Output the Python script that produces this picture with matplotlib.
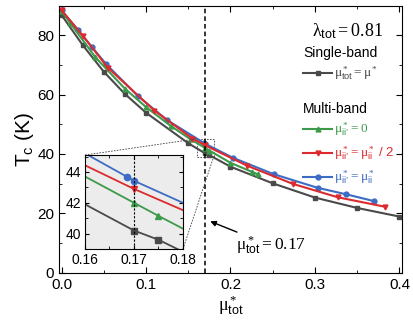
import numpy as np
import matplotlib
matplotlib.use("Agg")
import matplotlib.pyplot as plt
from mpl_toolkits.axes_grid1.inset_locator import mark_inset

plt.rcParams['font.family'] = 'Liberation Sans'
plt.rcParams['mathtext.fontset'] = 'custom'
plt.rcParams['mathtext.rm'] = 'Liberation Serif'
plt.rcParams['mathtext.it'] = 'Liberation Serif:italic'
plt.rcParams['mathtext.sf'] = 'Liberation Sans'

# single-band, mu*_tot = mu*
gray_x = [0, 0.025, 0.05, 0.075, 0.1, 0.15, 0.17, 0.175, 0.2, 0.25, 0.3, 0.35, 0.4]
gray_y = [86.8, 76.7, 67.7, 60.2, 53.9, 43.6, 40.2, 39.6, 35.7, 30.1, 25.3, 21.8, 18.9]
# multi-band, mu*_ii' = 0
green_x = [0, 0.01, 0.04, 0.075, 0.1, 0.129, 0.153, 0.17, 0.175, 0.2, 0.226, 0.233]
green_y = [88.1, 84.2, 72.6, 62.0, 55.8, 49.5, 44.9, 42.0, 41.15, 37.0, 33.9, 33.1]
# multi-band, mu*_ii' = mu*_ii / 2
red_x = [0, 0.025, 0.055, 0.11, 0.155, 0.17, 0.22, 0.274, 0.327, 0.383]
red_y = [88.4, 79.9, 69.0, 54.6, 45.2, 42.9, 36.0, 29.9, 25.4, 22.2]
# multi-band, mu*_ii' = mu*_ii
blue_x = [0, 0.019, 0.036, 0.053, 0.09, 0.125, 0.1685, 0.17, 0.203, 0.251, 0.303, 0.337, 0.370]
blue_y = [88.4, 81.9, 76.0, 70.2, 59.6, 51.4, 43.7, 43.43, 38.7, 33.2, 28.6, 26.4, 24.1]

mu_mark = 0.17

c_gray = '#4a4a4a'
c_green = '#3c9a4a'
c_red = '#dc2a2e'
c_blue = '#3d6cc4'

MU = r'\mathrm{\mu}'
SUB = '\\mathsf{ii\u2019}'
series = [
    (gray_x, gray_y, c_gray, 's', rf'${MU}^*_{{\mathsf{{tot}}}} = {MU}^*$', 3),
    (green_x, green_y, c_green, '^', rf"${MU}^*_{{{SUB}}} = 0$", 4),
    (red_x, red_y, c_red, 'v', rf"${MU}^*_{{{SUB}}} = {MU}^*_{{\mathsf{{ii}}}}$ / 2", 5),
    (blue_x, blue_y, c_blue, 'o', rf"${MU}^*_{{{SUB}}} = {MU}^*_{{\mathsf{{ii}}}}$", 2),
]

fig = plt.figure(figsize=(4.14, 3.25), dpi=100)
ax = fig.add_axes([0.1425, 0.161, 0.8285, 0.822])

handles = []
for xs, ys, col, mk, lab, z in series:
    h, = ax.plot(xs, ys, color=col, marker=mk, ms=3.5, lw=1.5, label=lab, zorder=z)
    handles.append(h)

ax.axvline(mu_mark, color='k', ls=(0, (3, 2)), lw=1.1, zorder=6)
ax.set_xlim(-0.003, 0.403)
ax.set_ylim(0, 90)
ax.set_xticks([0.0, 0.1, 0.2, 0.3, 0.4])
ax.set_xticks(np.arange(0.05, 0.4, 0.1), minor=True)
ax.set_yticks([0, 20, 40, 60, 80])
ax.set_yticks([10, 30, 50, 70, 90], minor=True)
ax.tick_params(which='both', direction='in', top=True, right=True, labelsize=11)
ax.tick_params(which='major', length=4)
ax.tick_params(which='minor', length=2.5)
ax.set_ylabel(r'T$_{\mathsf{c}}$ (K)', fontsize=15, labelpad=1)
ax.set_xlabel(rf'${MU}^*_{{\mathsf{{tot}}}}$', fontsize=13, labelpad=1)

ax.text(0.297, 81.5, r'$\mathrm{\lambda}_{\mathsf{tot}} = 0.81$', fontsize=13, va='center')

leg_kw = dict(loc='upper left', frameon=False, fontsize=9.5, title_fontsize=10,
              handlelength=2.2, handletextpad=0.15, borderpad=0, borderaxespad=0,
              labelcolor='linecolor', alignment='left', labelspacing=0.4)
leg1 = ax.legend(handles=handles[:1], title='Single-band',
                 bbox_to_anchor=(0.712, 0.85), **leg_kw)
ax.add_artist(leg1)
ax.legend(handles=handles[1:], title='Multi-band',
          bbox_to_anchor=(0.712, 0.64), **leg_kw)

ax.annotate(rf'${MU}^*_{{\mathsf{{tot}}}} = 0.17$', xy=(0.176, 17.3), xytext=(0.207, 9.0),
            fontsize=12.5, va='center', ha='left',
            arrowprops=dict(arrowstyle='-|>', color='k', lw=1.0, mutation_scale=8,
                            shrinkA=0, shrinkB=0))

# inset
axins = fig.add_axes([0.2053, 0.2338, 0.2367, 0.2892])
axins.set_facecolor('#ececec')
for xs, ys, col, mk, lab, z in series:
    axins.plot(xs, ys, color=col, marker=mk, ms=4.5, lw=1.3)
axins.axvline(mu_mark, color='k', ls=(0, (2, 1.5)), lw=0.8)
axins.set_xlim(0.16, 0.18)
axins.set_ylim(39.0, 45.1)
axins.set_xticks([0.16, 0.17, 0.18])
axins.set_xticks([0.165, 0.175], minor=True)
axins.set_yticks([40, 42, 44])
axins.set_yticks([39, 41, 43, 45], minor=True)
axins.tick_params(which='both', direction='in', top=True, right=True, labelsize=10, pad=3)
axins.tick_params(which='major', length=3)
axins.tick_params(which='minor', length=2)

mark_inset(ax, axins, loc1=2, loc2=4, fc='none', ec='0.25', ls=(0, (2, 1.5)), lw=0.6)

fig.savefig('out.png', dpi=100)
